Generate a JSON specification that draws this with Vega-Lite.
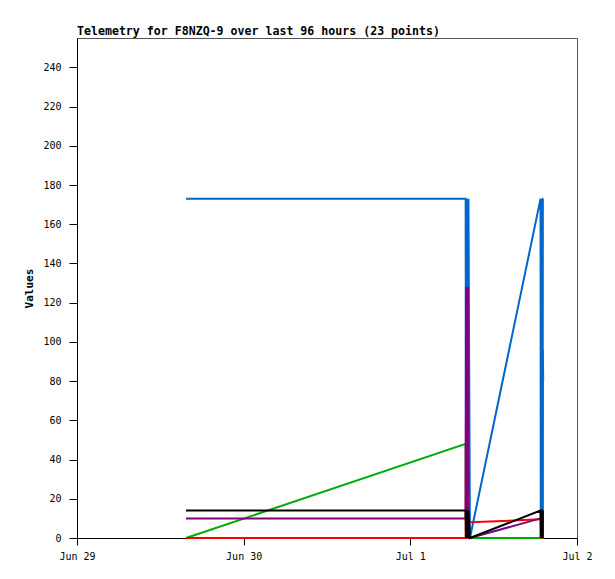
{
  "$schema": "https://vega.github.io/schema/vega-lite/v6.json",
  "width": 500,
  "height": 500,
  "autosize": "none",
  "padding": {"left": 77, "top": 38, "right": 38, "bottom": 41},
  "background": "#ffffff",
  "title": {
    "text": "Telemetry for F8NZQ-9 over last 96 hours (23 points)",
    "anchor": "start",
    "frame": "group",
    "font": "DejaVu Sans Mono",
    "fontSize": 11.6,
    "fontWeight": "bold",
    "color": "#000000",
    "baseline": "alphabetic",
    "offset": 4,
    "dy": 13
  },
  "data": {
    "values": [
      {"t": "2024-06-29T15:42:00Z", "a1": 173, "a2": 0, "a3": 0, "a4": 10, "a5": 14},
      {"t": "2024-07-01T07:58:00Z", "a1": 173, "a2": 48, "a3": 0, "a4": 10, "a5": 14},
      {"t": "2024-07-01T08:01:00Z", "a1": 0, "a2": 0, "a3": 64, "a4": 128, "a5": 0},
      {"t": "2024-07-01T08:04:00Z", "a1": 173, "a2": 0, "a3": 0, "a4": 0, "a5": 14},
      {"t": "2024-07-01T08:07:00Z", "a1": 0, "a2": 0, "a3": 64, "a4": 128, "a5": 0},
      {"t": "2024-07-01T08:10:00Z", "a1": 173, "a2": 0, "a3": 0, "a4": 0, "a5": 14},
      {"t": "2024-07-01T08:13:00Z", "a1": 0, "a2": 0, "a3": 64, "a4": 128, "a5": 0},
      {"t": "2024-07-01T08:16:00Z", "a1": 173, "a2": 0, "a3": 0, "a4": 0, "a5": 14},
      {"t": "2024-07-01T08:19:00Z", "a1": 0, "a2": 0, "a3": 64, "a4": 128, "a5": 0},
      {"t": "2024-07-01T08:22:00Z", "a1": 173, "a2": 0, "a3": 8, "a4": 0, "a5": 14},
      {"t": "2024-07-01T08:35:00Z", "a1": 0, "a2": 0, "a3": 8, "a4": 0, "a5": 0},
      {"t": "2024-07-01T18:45:00Z", "a1": 173, "a2": 0, "a3": 9.5, "a4": 10, "a5": 14},
      {"t": "2024-07-01T18:47:00Z", "a1": 0, "a2": 0, "a3": 9.5, "a4": 10, "a5": 0},
      {"t": "2024-07-01T18:49:00Z", "a1": 173, "a2": 0, "a3": 9.5, "a4": 10, "a5": 14},
      {"t": "2024-07-01T18:51:00Z", "a1": 0, "a2": 0, "a3": 9.5, "a4": 10, "a5": 0},
      {"t": "2024-07-01T18:53:00Z", "a1": 173, "a2": 0, "a3": 9.5, "a4": 10, "a5": 14},
      {"t": "2024-07-01T18:55:00Z", "a1": 0, "a2": 0, "a3": 9.5, "a4": 10, "a5": 0},
      {"t": "2024-07-01T18:57:00Z", "a1": 173, "a2": 0, "a3": 9.5, "a4": 10, "a5": 14},
      {"t": "2024-07-01T18:59:00Z", "a1": 0, "a2": 0, "a3": 9.5, "a4": 10, "a5": 0},
      {"t": "2024-07-01T19:01:00Z", "a1": 173, "a2": 0, "a3": 9.5, "a4": 10, "a5": 14},
      {"t": "2024-07-01T19:03:00Z", "a1": 0, "a2": 0, "a3": 9.5, "a4": 10, "a5": 0},
      {"t": "2024-07-01T19:05:00Z", "a1": 173, "a2": 96, "a3": 0, "a4": 10, "a5": 14},
      {"t": "2024-07-01T19:08:00Z", "a1": 173, "a2": 80, "a3": 0, "a4": 10, "a5": 14}
    ]
  },
  "encoding": {
    "x": {
      "field": "t",
      "type": "temporal",
      "title": null,
      "scale": {
        "type": "utc",
        "domain": [
          {"year": 2024, "month": "jun", "date": 29, "utc": true},
          {"year": 2024, "month": "jul", "date": 2, "utc": true}
        ]
      },
      "axis": {"format": "%b %-d", "tickCount": {"interval": "day", "step": 1}, "labelAlign": "center", "labelFlush": false}
    }
  },
  "layer": [
    {
      "mark": {"type": "line", "color": "#00aa00", "strokeWidth": 2},
      "encoding": {"y": {"field": "a2", "type": "quantitative", "title": "Values", "scale": {"domain": [0, 255], "nice": false}}}
    },
    {
      "mark": {"type": "line", "color": "#0066cc", "strokeWidth": 2},
      "encoding": {"y": {"field": "a1", "type": "quantitative", "title": "Values"}}
    },
    {
      "mark": {"type": "line", "color": "#ff0000", "strokeWidth": 2},
      "encoding": {"y": {"field": "a3", "type": "quantitative", "title": "Values"}}
    },
    {
      "mark": {"type": "line", "color": "#800080", "strokeWidth": 2},
      "encoding": {"y": {"field": "a4", "type": "quantitative", "title": "Values"}}
    },
    {
      "mark": {"type": "line", "color": "#000000", "strokeWidth": 2},
      "encoding": {"y": {"field": "a5", "type": "quantitative", "title": "Values"}}
    }
  ],
  "config": {
    "view": {"stroke": "#555555", "strokeWidth": 1},
    "axis": {
      "grid": false,
      "domainColor": "#000000",
      "tickColor": "#000000",
      "labelFont": "DejaVu Sans Mono",
      "labelFontSize": 10,
      "labelColor": "#000000",
      "titleFont": "DejaVu Sans Mono",
      "titleFontSize": 11,
      "titleFontWeight": "bold",
      "titleColor": "#000000"
    },
    "axisY": {
      "values": [0, 20, 40, 60, 80, 100, 120, 140, 160, 180, 200, 220, 240],
      "tickSize": 8,
      "labelPadding": 8,
      "titlePadding": 8
    },
    "axisX": {"tickSize": 7, "labelPadding": 6}
  }
}
